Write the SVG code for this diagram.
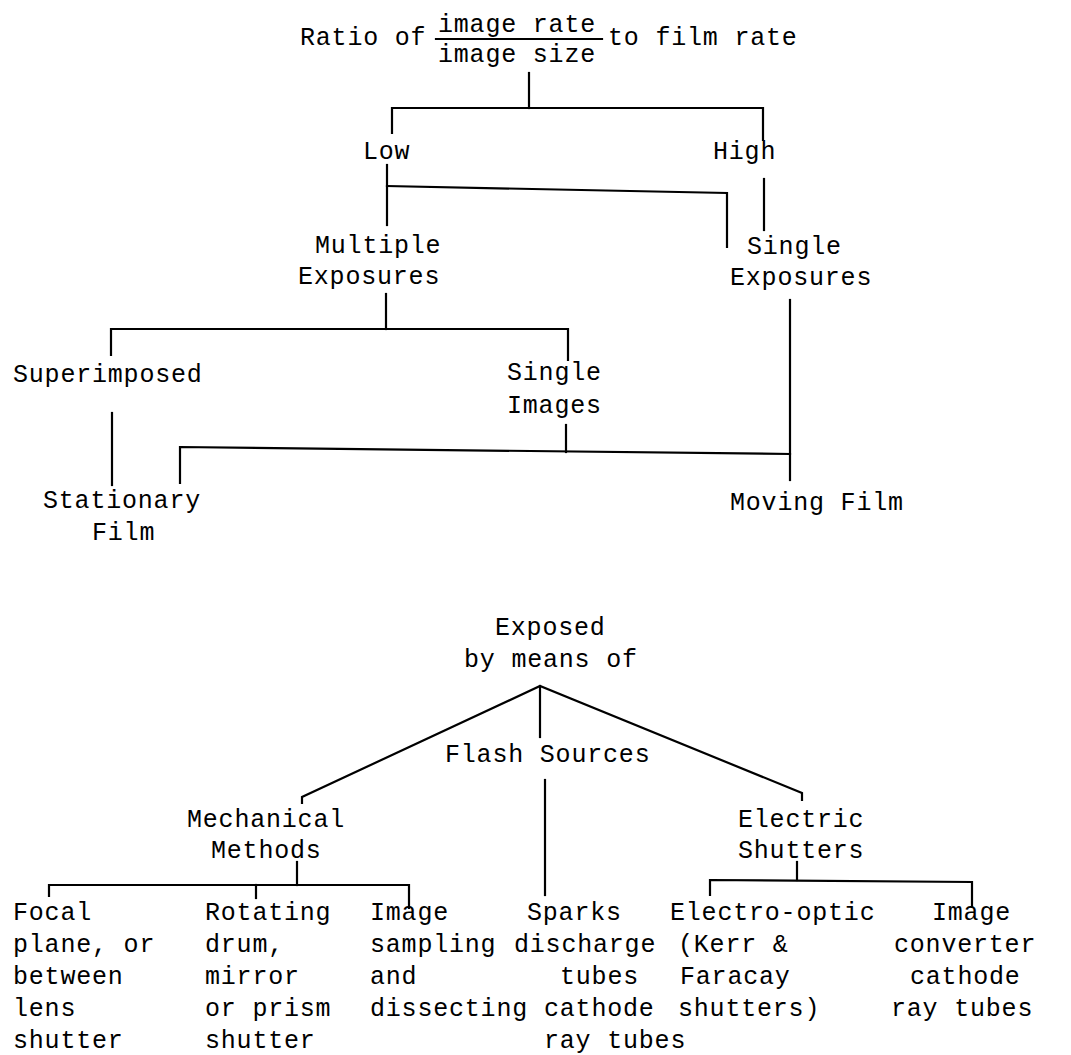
<svg xmlns="http://www.w3.org/2000/svg" width="1071" height="1055" viewBox="0 0 1071 1055">
<style>
.t{font-family:"Liberation Mono","DejaVu Sans Mono",monospace;font-size:25px;letter-spacing:0.8px;fill:#000}
.c line,.c polyline,.n line{stroke:#000;stroke-width:2.2;fill:none;stroke-linecap:square;stroke-linejoin:miter}
</style>
<rect width="1071" height="1055" fill="#fff"/>
<g class="c" id="connectors">
<line x1="529" y1="73" x2="529" y2="108"/>
<polyline points="392,133 392,108 763,108 763,140"/>
<line x1="387" y1="165" x2="387" y2="225"/>
<polyline points="387,186 727,193 727,247"/>
<line x1="764" y1="179" x2="764" y2="230"/>
<line x1="386" y1="294" x2="386" y2="329"/>
<polyline points="111,355 111,329 568,329 568,360"/>
<line x1="112" y1="413" x2="112" y2="485"/>
<line x1="566" y1="425" x2="566" y2="452"/>
<polyline points="180,483 180,447 790,454"/>
<line x1="790" y1="300" x2="790" y2="480"/>
<line x1="540" y1="686" x2="540" y2="737"/>
<polyline points="302,803 302,797 540,686 802,793 802,800"/>
<line x1="545" y1="780" x2="545" y2="895"/>
<line x1="297" y1="862" x2="297" y2="885"/>
<polyline points="49,896 49,885 409,885 409,908"/>
<line x1="256" y1="885" x2="256" y2="898"/>
<line x1="797" y1="862" x2="797" y2="880"/>
<polyline points="710,895 710,880 972,882 972,907"/>
</g>
<g id="n-title" class="n">
<text class="t" x="300" y="45">Ratio of</text>
<text class="t" x="438" y="32">image rate</text>
<line x1="436" y1="39" x2="602" y2="39"/>
<text class="t" x="438" y="62">image size</text>
<text class="t" x="608" y="45">to film rate</text>
</g>
<g id="n-low"><text class="t" x="363" y="159">Low</text></g>
<g id="n-high"><text class="t" x="713" y="159">High</text></g>
<g id="n-multiple"><text class="t" x="315" y="253">Multiple</text><text class="t" x="298" y="284">Exposures</text></g>
<g id="n-single-exp"><text class="t" x="747" y="254">Single</text><text class="t" x="730" y="285">Exposures</text></g>
<g id="n-superimposed"><text class="t" x="13" y="382">Superimposed</text></g>
<g id="n-single-img"><text class="t" x="507" y="380">Single</text><text class="t" x="507" y="413">Images</text></g>
<g id="n-stationary"><text class="t" x="43" y="508">Stationary</text><text class="t" x="92" y="540">Film</text></g>
<g id="n-moving"><text class="t" x="730" y="510">Moving Film</text></g>
<g id="n-exposed"><text class="t" x="495" y="635">Exposed</text><text class="t" x="464" y="667">by means of</text></g>
<g id="n-flash"><text class="t" x="445" y="762">Flash Sources</text></g>
<g id="n-mech"><text class="t" x="187" y="827">Mechanical</text><text class="t" x="211" y="858">Methods</text></g>
<g id="n-elec"><text class="t" x="738" y="827">Electric</text><text class="t" x="738" y="858">Shutters</text></g>
<g id="n-focal"><text class="t" x="13" y="920">Focal</text><text class="t" x="13" y="952">plane, or</text><text class="t" x="13" y="984">between</text><text class="t" x="13" y="1016">lens</text><text class="t" x="13" y="1048">shutter</text></g>
<g id="n-rotating"><text class="t" x="205" y="920">Rotating</text><text class="t" x="205" y="952">drum,</text><text class="t" x="205" y="984">mirror</text><text class="t" x="205" y="1016">or prism</text><text class="t" x="205" y="1048">shutter</text></g>
<g id="n-sampling"><text class="t" x="370" y="920">Image</text><text class="t" x="370" y="952">sampling</text><text class="t" x="370" y="984">and</text><text class="t" x="370" y="1016">dissecting</text></g>
<g id="n-sparks"><text class="t" x="527" y="920">Sparks</text><text class="t" x="514" y="952">discharge</text><text class="t" x="560" y="984">tubes</text><text class="t" x="544" y="1016">cathode</text><text class="t" x="544" y="1048">ray tubes</text></g>
<g id="n-electro"><text class="t" x="670" y="920">Electro-optic</text><text class="t" x="678" y="952">(Kerr &amp;</text><text class="t" x="680" y="984">Faracay</text><text class="t" x="678" y="1016">shutters)</text></g>
<g id="n-converter"><text class="t" x="932" y="920">Image</text><text class="t" x="894" y="952">converter</text><text class="t" x="910" y="984">cathode</text><text class="t" x="891" y="1016">ray tubes</text></g>
</svg>
